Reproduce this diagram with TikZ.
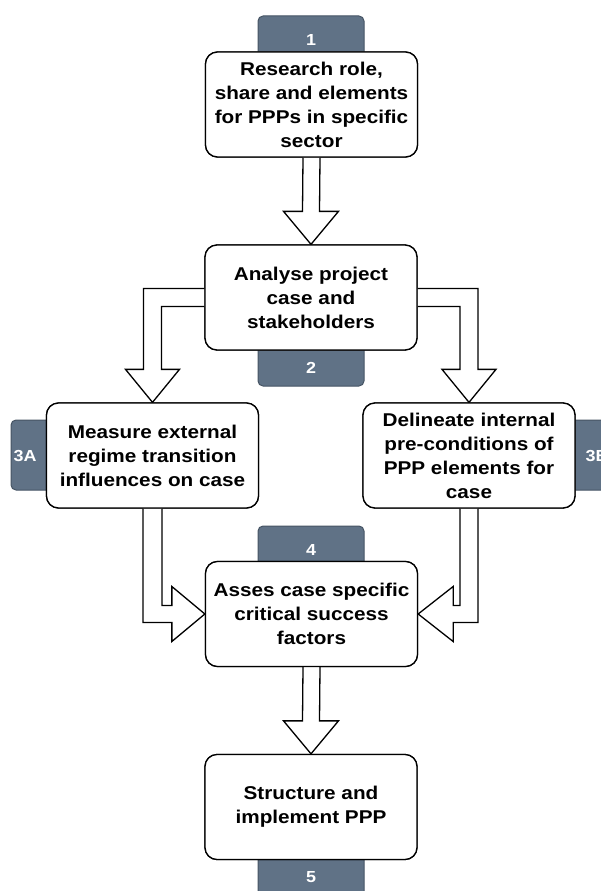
\documentclass[tikz,border=0pt]{standalone}
\usepackage{fontspec}
\setmainfont{Liberation Sans}
\newfontfamily\boxfont{Liberation Sans}[FakeStretch=1.12]
\usetikzlibrary{calc}
\definecolor{tabfill}{RGB}{96,114,134}
\definecolor{tabline}{RGB}{70,84,100}
\tikzset{
  stepbox/.style={draw=black, line width=1.3pt, fill=white, rounded corners=12pt,
    minimum width=212pt, minimum height=105pt, align=center, inner sep=2pt,
    font=\boxfont\bfseries\fontsize{18.5}{24}\selectfont},
  tabbox/.style={draw=tabline, line width=1pt, fill=tabfill, rounded corners=5pt, inner sep=0pt},
  tablabel/.style={text=white, font=\boxfont\bfseries\fontsize{16}{18}\selectfont, inner sep=0pt},
  blockarrow/.style={draw=black, line width=1.3pt, fill=white, line join=miter}
}
\begin{document}
\begin{tikzpicture}[x=1pt,y=-1pt]
\useasboundingbox (0,0) rectangle (601,891);
\clip (0,0) rectangle (601,891);

% numbered tabs, drawn first so the step boxes overlap them
\node[tabbox, minimum width=106pt, minimum height=50pt] (tab1) at (311,41) {};
\node[tabbox, minimum width=106pt, minimum height=50pt] (tab2) at (311,361) {};
\node[tabbox, minimum width=70pt, minimum height=70pt] (tab3a) at (46,455) {};
\node[tabbox, minimum width=70pt, minimum height=70pt] (tab3b) at (576,455) {};
\node[tabbox, minimum width=106pt, minimum height=50pt] (tab4) at (311,551) {};
\node[tabbox, minimum width=106pt, minimum height=50pt] (tab5) at (311,872) {};

\node[tablabel] (lab1) at (311,40) {1};
\node[tablabel] (lab2) at (311,368) {2};
\node[tablabel] (lab3a) at (25,456) {3A};
\node[tablabel] (lab3b) at (597,456) {3B};
\node[tablabel] (lab4) at (311,550) {4};
\node[tablabel] (lab5) at (311,877) {5};

% step boxes
\node[stepbox] (b1) at (311.5,104.5) {Research role,\\share and elements\\for PPPs in specific\\sector};
\node[stepbox] (b2) at (311,297.5) {Analyse project\\case and\\stakeholders};
\node[stepbox] (b3a) at (152.5,455.5) {Measure external\\regime transition\\influences on case};
\node[stepbox] (b3b) at (469,455.5) {Delineate internal\\pre-conditions of\\PPP elements for\\case};
\node[stepbox] (b4) at (311.5,614) {Asses case specific\\critical success\\factors};
\node[stepbox] (b5) at (311,807) {Structure and\\implement PPP};

% block arrows between the steps
% 1 -> 2
\draw[blockarrow] ($(b1.south)+(-8.5,0)$) -- ($(b2.north)+(-8.5,-33)$) -- ($(b2.north)+(-27.5,-33)$)
  -- (b2.north) -- ($(b2.north)+(27.5,-33)$) -- ($(b2.north)+(8.5,-33)$) -- ($(b1.south)+(8.5,0)$);
% 4 -> 5
\draw[blockarrow] ($(b4.south)+(-8.5,0)$) -- ($(b5.north)+(-8.5,-33)$) -- ($(b5.north)+(-27.5,-33)$)
  -- (b5.north) -- ($(b5.north)+(27.5,-33)$) -- ($(b5.north)+(8.5,-33)$) -- ($(b4.south)+(8.5,0)$);
% 2 -> 3A
\draw[blockarrow] ($(b2.west)+(0,-9)$) -- ($(b3a.north |- b2.west)+(-9,-9)$) -- ($(b3a.north)+(-9,-33)$)
  -- ($(b3a.north)+(-27,-33)$) -- (b3a.north) -- ($(b3a.north)+(27,-33)$) -- ($(b3a.north)+(9,-33)$)
  -- ($(b3a.north |- b2.west)+(9,9)$) -- ($(b2.west)+(0,9)$);
% 2 -> 3B
\draw[blockarrow] ($(b2.east)+(0,-9)$) -- ($(b3b.north |- b2.east)+(9,-9)$) -- ($(b3b.north)+(9,-33)$)
  -- ($(b3b.north)+(27,-33)$) -- (b3b.north) -- ($(b3b.north)+(-27,-33)$) -- ($(b3b.north)+(-9,-33)$)
  -- ($(b3b.north |- b2.east)+(-9,9)$) -- ($(b2.east)+(0,9)$);
% 3A -> 4
\draw[blockarrow] ($(b3a.south)+(-9.5,0)$) -- ($(b3a.south |- b4.west)+(-9.5,8.5)$) -- ($(b4.west)+(-33,8.5)$)
  -- ($(b4.west)+(-33,27.5)$) -- (b4.west) -- ($(b4.west)+(-33,-27.5)$) -- ($(b4.west)+(-33,-8.5)$)
  -- ($(b3a.south |- b4.west)+(9.5,-8.5)$) -- ($(b3a.south)+(9.5,0)$);
% 3B -> 4
\draw[blockarrow] ($(b3b.south)+(9,0)$) -- ($(b3b.south |- b4.east)+(9,8.5)$) -- ($(b4.east)+(35,8.5)$)
  -- ($(b4.east)+(35,27.5)$) -- (b4.east) -- ($(b4.east)+(35,-27.5)$) -- ($(b4.east)+(35,-8.5)$)
  -- ($(b3b.south |- b4.east)+(-9,-8.5)$) -- ($(b3b.south)+(-9,0)$);

% redraw the boxes over the arrow ends
\node[stepbox] at (b1) {Research role,\\share and elements\\for PPPs in specific\\sector};
\node[stepbox] at (b2) {Analyse project\\case and\\stakeholders};
\node[stepbox] at (b3a) {Measure external\\regime transition\\influences on case};
\node[stepbox] at (b3b) {Delineate internal\\pre-conditions of\\PPP elements for\\case};
\node[stepbox] at (b4) {Asses case specific\\critical success\\factors};
\node[stepbox] at (b5) {Structure and\\implement PPP};
\end{tikzpicture}
\end{document}
